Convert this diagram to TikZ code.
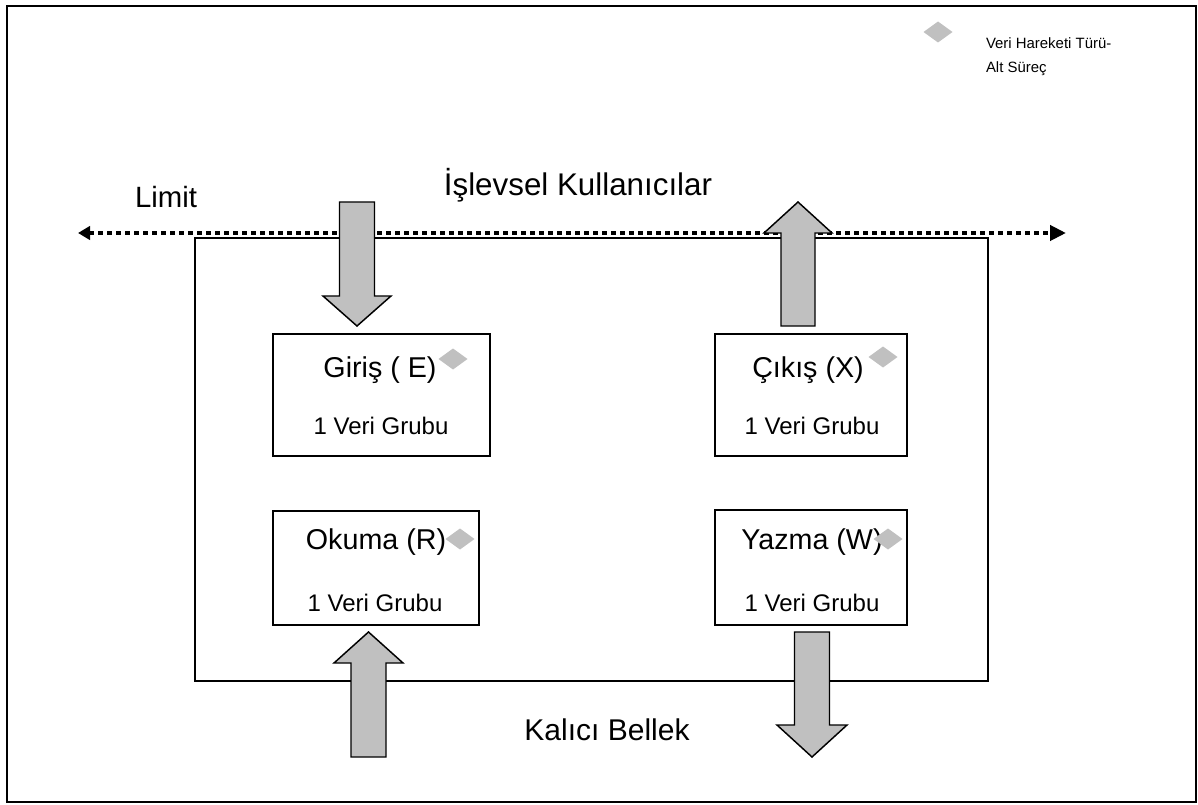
\documentclass[tikz,border=0pt]{standalone}
\usepackage{fontspec}
\setmainfont{Liberation Sans}
\usetikzlibrary{arrows.meta}
\definecolor{flowgrey}{HTML}{C0C0C0}

% grey block arrow: centre x, tail y, head-base y, tip y, shaft half-width, head half-width
\newcommand\blockarrow[6]{%
  \draw[blockarrow] (#1-#5,#2) -- (#1-#5,#3) -- (#1-#6,#3) -- (#1,#4)
    -- (#1+#6,#3) -- (#1+#5,#3) -- (#1+#5,#2) -- cycle;}
% grey diamond marking a data movement type
\newcommand\movemark[2]{%
  \fill[flowgrey] (#1-14.5,#2) -- (#1,#2-10.5) -- (#1+14.5,#2) -- (#1,#2+10.5) -- cycle;}

\begin{document}
\begin{tikzpicture}[x=0.75pt,y=-0.75pt,
  every node/.style={inner sep=0pt,outer sep=0pt},
  unitbox/.style={draw,rectangle,line width=1.1pt,fill=white},
  title/.style={anchor=base,font=\fontsize{21.5}{26}\selectfont},
  count/.style={anchor=base,font=\fontsize{18}{22}\selectfont},
  caption/.style={anchor=base,font=\fontsize{22}{26}\selectfont},
  legendtext/.style={anchor=base west,font=\fontsize{11.2}{13}\selectfont},
  blockarrow/.style={fill=flowgrey,draw=black,line width=1.1pt,line join=miter},
  boundary/.style={line width=3pt,dash pattern=on 3.75pt off 3pt}]
\useasboundingbox (0,0) rectangle (1198,805);

% outer frame and software boundary
\draw[line width=1.5pt] (7,6) rectangle (1196,802);
\draw[line width=1.3pt] (195,238) rectangle (988,681);

% boundary line between functional users and the software
\coordinate (bl) at (78,233);
\coordinate (br) at (1066,233);
\draw[boundary,{Triangle[length=9pt,width=10pt]}-{Triangle[length=12pt,width=11.25pt]}] (bl) -- (br);

% data movement boxes
\node[unitbox,minimum width=217*0.75pt,minimum height=122*0.75pt] (giris) at (381.5,395) {};
\node[unitbox,minimum width=192*0.75pt,minimum height=122*0.75pt] (cikis) at (811,395) {};
\node[unitbox,minimum width=206*0.75pt,minimum height=114*0.75pt] (okuma) at (376,568) {};
\node[unitbox,minimum width=192*0.75pt,minimum height=115*0.75pt] (yazma) at (811,567.5) {};

% data flows
\blockarrow{357}{202}{296}{326}{17.5}{34}
\blockarrow{798}{326}{233}{202}{17}{34}
\blockarrow{368.5}{757}{663}{632}{17.5}{34.5}
\blockarrow{812}{632}{725}{757}{17.5}{35}

% box texts
\node[title] (girisT) at (380,377) {Giriş ( E)};
\node[count] (girisC) at (381,434) {1 Veri Grubu};
\node[title] (cikisT) at (808,377) {Çıkış (X)};
\node[count] (cikisC) at (812,434) {1 Veri Grubu};
\node[title] (okumaT) at (376,549) {Okuma (R)};
\node[count] (okumaC) at (375,611) {1 Veri Grubu};
\node[title] (yazmaT) at (812,549) {Yazma (W)};
\node[count] (yazmaC) at (812,611) {1 Veri Grubu};

% outside labels
\node[caption] (limit) at (166,208) {Limit};
\node[caption,font=\fontsize{23.5}{28}\selectfont] (users) at (578,196) {İşlevsel Kullanıcılar};
\node[caption,font=\fontsize{22.5}{27}\selectfont] (store) at (607,740) {Kalıcı Bellek};

% legend
\node[legendtext] (leg1) at (986,49) {Veri Hareketi Türü-};
\node[legendtext] (leg2) at (986,73) {Alt Süreç};

% movement markers
\movemark{938}{32}
\movemark{453}{359}
\movemark{883}{357}
\movemark{460}{539}
\movemark{888}{539}
\end{tikzpicture}
\end{document}
